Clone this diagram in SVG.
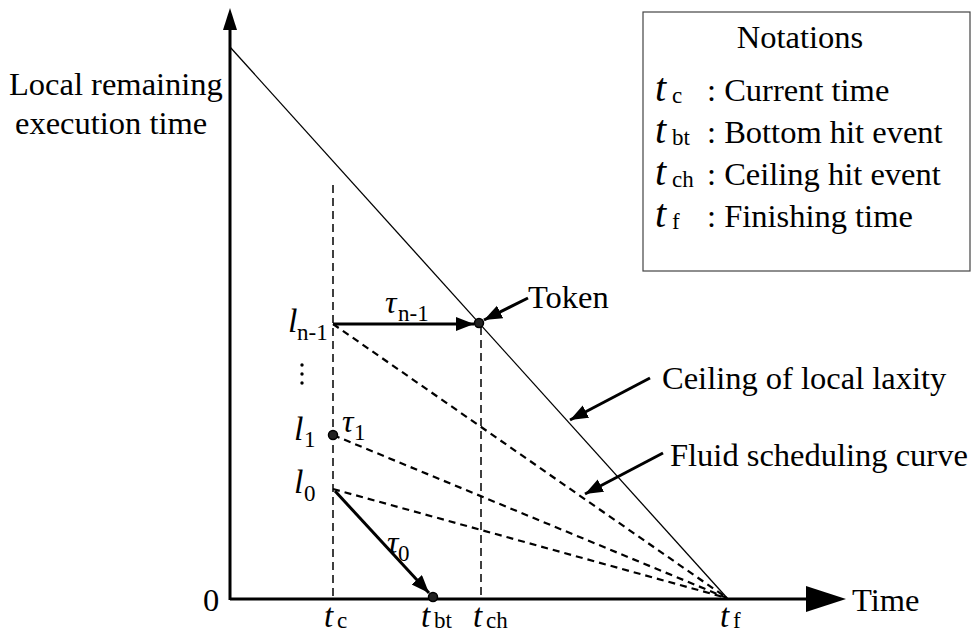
<svg xmlns="http://www.w3.org/2000/svg" width="975" height="635" viewBox="0 0 975 635">
<style>
.t{font-family:"Liberation Serif","Times New Roman",serif;fill:#000}
.lbl{font-size:32.5px}
.m{font-family:"Liberation Serif","Times New Roman",serif;font-style:italic;fill:#000}
.sub{font-family:"Liberation Serif","Times New Roman",serif;fill:#000;font-size:23px}
.ax{stroke:#000;stroke-width:3;fill:none}
.vd{stroke:#000;stroke-width:1.5;stroke-dasharray:8,5;fill:none}
.cd{stroke:#000;stroke-width:2.2;stroke-dasharray:7,5;fill:none}
.ar{stroke:#000;stroke-width:3;fill:none;marker-end:url(#ah)}
</style>
<defs>
<marker id="ah" markerUnits="userSpaceOnUse" markerWidth="20" markerHeight="16" refX="18" refY="7" orient="auto">
<path d="M0,0 L18,7 L0,14 z" fill="#000"/>
</marker>
</defs>
<rect width="975" height="635" fill="#fff"/>

<g id="axes">
<line class="ax" x1="230" y1="600" x2="230" y2="28"/>
<polygon points="230,8 223,30 237,30" fill="#000"/>
<line class="ax" x1="230" y1="599" x2="810" y2="599"/>
<polygon points="846,599 806,586 806,612" fill="#000"/>
<text class="t lbl" x="9" y="95">Local remaining</text>
<text class="t lbl" x="15" y="134" font-size="33.5">execution time</text>
<text class="t lbl" x="852" y="611">Time</text>
<text class="t lbl" x="203" y="611">0</text>
</g>

<g id="ceiling">
<line x1="230" y1="47" x2="728" y2="599" stroke="#000" stroke-width="1.3"/>
</g>

<g id="guides">
<line class="vd" x1="333" y1="185" x2="333" y2="598"/>
<line class="vd" x1="481" y1="327" x2="481" y2="598"/>
</g>

<g id="connectors">
<line class="cd" x1="333" y1="324" x2="727" y2="598"/>
<line class="cd" x1="333" y1="435" x2="727" y2="598"/>
<line class="cd" x1="333" y1="489" x2="727" y2="598"/>
<line class="ar" x1="333" y1="324" x2="474" y2="324"/>
<line class="ar" x1="335" y1="491" x2="429" y2="593"/>
<line stroke="#000" stroke-width="3" x1="528" y1="298" x2="484" y2="320" marker-end="url(#ah)"/>
<line stroke="#000" stroke-width="3" x1="650" y1="378" x2="570" y2="420" marker-end="url(#ah)"/>
<line stroke="#000" stroke-width="3" x1="663" y1="453" x2="585" y2="494" marker-end="url(#ah)"/>
</g>

<g id="points">
<circle cx="479" cy="323" r="4.5" fill="#222" stroke="#000" stroke-width="1.5"/>
<circle cx="333" cy="435" r="4.5" fill="#222" stroke="#000" stroke-width="1.5"/>
<circle cx="433" cy="597" r="4.5" fill="#222" stroke="#000" stroke-width="1.5"/>
</g>

<g id="level-labels">
<text class="m" font-size="34" x="288" y="332">l</text><text class="sub" x="297" y="340">n-1</text>
<circle cx="302" cy="365" r="1.7" fill="#000"/><circle cx="302" cy="374" r="1.7" fill="#000"/><circle cx="302" cy="383" r="1.7" fill="#000"/>
<text class="m" font-size="34" x="294" y="440">l</text><text class="sub" x="304" y="447">1</text>
<text class="m" font-size="34" x="294" y="493">l</text><text class="sub" x="304" y="501">0</text>
<text class="m" font-size="32" x="385" y="313">τ</text><text class="sub" x="398" y="321">n-1</text>
<text class="m" font-size="32" x="342" y="432">τ</text><text class="sub" x="354" y="440">1</text>
<text class="m" font-size="32" x="387" y="553">τ</text><text class="sub" x="398" y="561">0</text>
</g>

<g id="time-labels">
<text class="m" font-size="33" x="324" y="627">t</text><text class="sub" x="337" y="628">c</text>
<text class="m" font-size="33" x="421" y="627">t</text><text class="sub" x="434" y="628">bt</text>
<text class="m" font-size="33" x="473" y="627">t</text><text class="sub" x="486" y="628">ch</text>
<text class="m" font-size="33" x="720" y="627">t</text><text class="sub" x="733" y="628">f</text>
</g>

<g id="annotations">
<text class="t lbl" x="528" y="308">Token</text>
<text class="t lbl" x="662" y="389">Ceiling of local laxity</text>
<text class="t lbl" x="670" y="466">Fluid scheduling curve</text>
</g>

<g id="legend">
<rect x="643" y="12" width="327" height="259" fill="#fff" stroke="#444" stroke-width="1.2"/>
<text class="t lbl" x="800" y="48" text-anchor="middle">Notations</text>
<text class="m" font-size="40" x="655" y="101">t</text><text class="sub" x="672" y="103">c</text><text class="t lbl" x="707" y="101">: Current time</text>
<text class="m" font-size="40" x="655" y="143">t</text><text class="sub" x="672" y="145">bt</text><text class="t lbl" x="707" y="143">: Bottom hit event</text>
<text class="m" font-size="40" x="655" y="185">t</text><text class="sub" x="672" y="187">ch</text><text class="t lbl" x="707" y="185">: Ceiling hit event</text>
<text class="m" font-size="40" x="655" y="227">t</text><text class="sub" x="672" y="229">f</text><text class="t lbl" x="707" y="227">: Finishing time</text>
</g>
</svg>
